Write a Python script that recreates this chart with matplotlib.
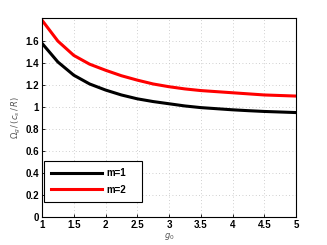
import matplotlib
matplotlib.use("Agg")
import matplotlib.pyplot as plt

# --- Data ---
g0 = [1.0, 1.25, 1.5, 1.75, 2.0, 2.25, 2.5, 2.75, 3.0, 3.25, 3.5, 3.75, 4.0, 4.25, 4.5, 4.75, 5.0]
omega_m1 = [1.58, 1.41, 1.29, 1.21, 1.155, 1.11, 1.075, 1.05, 1.03, 1.01, 0.995, 0.985, 0.975, 0.967, 0.96, 0.955, 0.95]
omega_m2 = [1.79, 1.60, 1.47, 1.39, 1.335, 1.285, 1.245, 1.21, 1.185, 1.165, 1.15, 1.14, 1.13, 1.12, 1.11, 1.105, 1.10]
xticks = [1, 1.5, 2, 2.5, 3, 3.5, 4, 4.5, 5]
xticklabels = ["1", "1.5", "2", "2.5", "3", "3.5", "4", "4.5", "5"]
yticks = [0, 0.2, 0.4, 0.6, 0.8, 1.0, 1.2, 1.4, 1.6]
yticklabels = ["0", "0.2", "0.4", "0.6", "0.8", "1", "1.2", "1.4", "1.6"]

plt.rcParams['font.family'] = ['Liberation Sans', 'DejaVu Sans']

fig = plt.figure(figsize=(3.27, 2.45), dpi=100)
ax = fig.add_axes([42 / 327, 28 / 245, 254 / 327, 199 / 245])

ax.plot(g0, omega_m1, color="black", lw=2.2, label="m=1")
ax.plot(g0, omega_m2, color="#ff0000", lw=2.2, label="m=2")

ax.set_xlim(1, 5)
ax.set_ylim(0, 1.81)
ax.set_xticks(xticks)
ax.set_xticklabels(xticklabels, fontsize=7, fontweight="bold")
ax.set_yticks(yticks)
ax.set_yticklabels(yticklabels, fontsize=7, fontweight="bold")
ax.tick_params(direction="in", length=2, width=0.6, pad=2)

ax.grid(True, linestyle=(0, (1, 3)), color="#c0c0c0", lw=0.6)
for s in ax.spines.values():
    s.set_linewidth(0.8)

ax.set_xlabel(r"$g_0$", fontsize=6, color="#555555", labelpad=1)
ax.set_ylabel(r"$\Omega_g\,/\,(c_s\,/\,R)$", fontsize=6, color="#555555", labelpad=2)

leg = ax.legend(loc="lower left", bbox_to_anchor=(0.008, 0.075, 98 / 254, 42 / 199),
                mode="expand", fancybox=False, edgecolor="black", framealpha=1,
                handlelength=5.2, handletextpad=0.45, borderaxespad=0,
                prop={"size": 7, "weight": "bold"}, borderpad=0.75, labelspacing=0.7)
leg.get_frame().set_linewidth(0.8)

fig.savefig("out.png", dpi=100)
